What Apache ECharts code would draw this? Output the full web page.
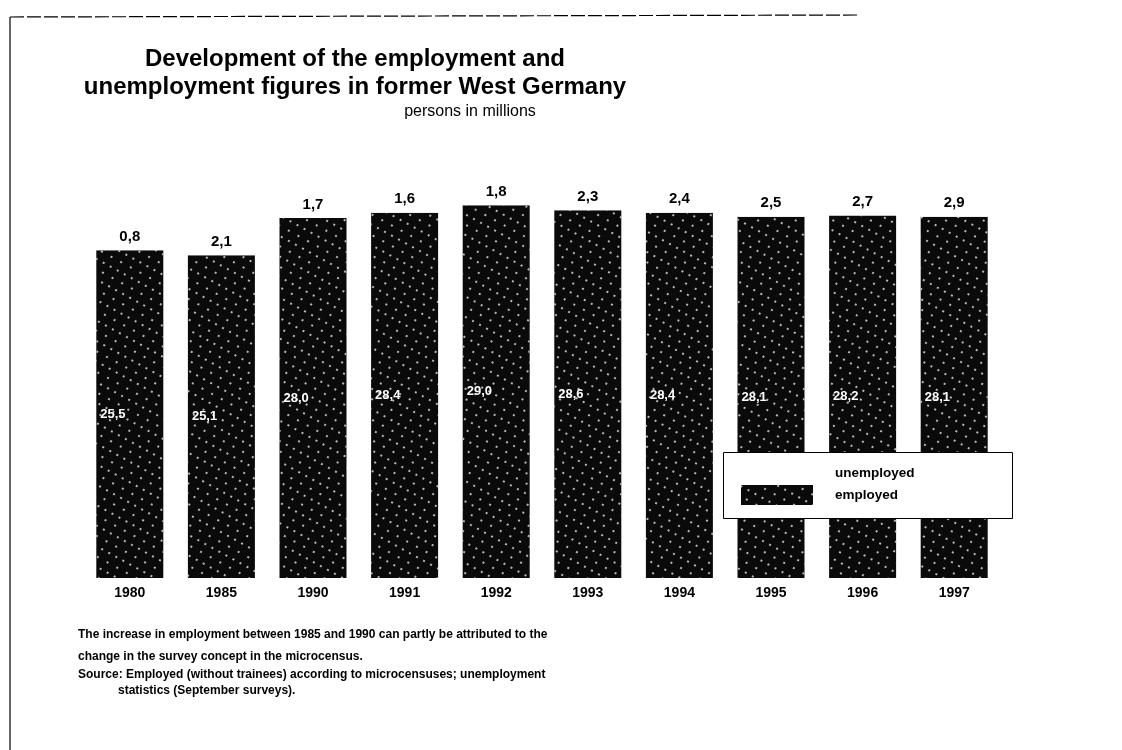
<!DOCTYPE html>
<html>
<head>
<meta charset="utf-8">
<script src="https://cdn.jsdelivr.net/npm/echarts@6/dist/echarts.min.js"></script>
<style>
  html, body { margin: 0; padding: 0; background: #fff; }
  #chart { width: 1122px; height: 750px; }
</style>
</head>
<body>
<div id="chart"></div>
<script>
const years = ['1980', '1985', '1990', '1991', '1992', '1993', '1994', '1995', '1996', '1997'];
const employed = [25.5, 25.1, 28.0, 28.4, 29.0, 28.6, 28.4, 28.1, 28.2, 28.1];
const unemployed = [0.8, 2.1, 1.7, 1.6, 1.8, 2.3, 2.4, 2.5, 2.7, 2.9];
const footnotes = [
  'The increase in employment between 1985 and 1990 can partly be attributed to the',
  'change in the survey concept in the microcensus.',
  'Source: Employed (without trainees) according to microcensuses; unemployment',
  '            statistics (September surveys).'
];

const fmt = v => String(v.toFixed(1)).replace('.', ',');
const FONT = '"Liberation Sans", Arial, sans-serif';

const chart = echarts.init(document.getElementById('chart'));
chart.setOption({
  backgroundColor: '#fff',
  animation: false,
  textStyle: { fontFamily: FONT },
  title: [
    {
      text: 'Development of the employment and\nunemployment figures in former West Germany',
      left: 350, top: 40, textAlign: 'center',
      textStyle: { fontFamily: FONT, fontSize: 24, fontWeight: 'bold', color: '#000', lineHeight: 28 }
    },
    {
      text: 'persons in millions',
      left: 465, top: 99, textAlign: 'center',
      textStyle: { fontFamily: FONT, fontSize: 16, fontWeight: 'normal', color: '#000' }
    }
  ],
  grid: { left: 84, right: 122, top: 128, bottom: 172 },
  xAxis: {
    type: 'category',
    data: years,
    axisLine: { show: false },
    axisTick: { show: false },
    axisLabel: { margin: 8, fontFamily: FONT, fontSize: 14, fontWeight: 'bold', color: '#000' }
  },
  yAxis: { type: 'value', min: 0, max: 35, show: false },
  legend: {
    orient: 'vertical',
    left: 741, top: 463,
    itemWidth: 72, itemHeight: 20, itemGap: 2, padding: 0,
    icon: 'rect',
    data: ['unemployed', 'employed'],
    textStyle: { fontFamily: FONT, fontSize: 13.5, fontWeight: 'bold', color: '#000', padding: [0, 0, 0, 17] },
    z: 10
  },
  graphic: [
    { type: 'rect', left: 723, top: 452, z: 8, shape: { width: 289, height: 66 },
      style: { fill: '#fff', stroke: '#000', lineWidth: 1 } },
    { type: 'line', z: 8, shape: { x1: 10, y1: 17, x2: 860, y2: 15 },
      style: { stroke: '#000', lineWidth: 1.2, lineDash: [14, 3] } },
    { type: 'line', z: 8, shape: { x1: 10, y1: 17, x2: 10, y2: 750 },
      style: { stroke: '#000', lineWidth: 1.2 } },
    ...footnotes.map((t, i) => ({
      type: 'text', left: 78, top: [629, 651, 669, 685][i], z: 8,
      style: { text: t, fontFamily: FONT, fontSize: 12, fontWeight: 'bold', fill: '#000' }
    }))
  ],
  series: [
    {
      name: 'employed', type: 'bar', stack: 'total', barWidth: 67,
      data: employed,
      itemStyle: {
        color: '#0a0a0a',
        decal: { symbol: 'rect', symbolSize: 1, color: 'rgba(255,255,255,0.7)',
                 dashArrayX: [[2, 9], [2, 6]], dashArrayY: [2, 7], rotation: 0.5 }
      },
      label: {
        show: true, position: 'insideLeft', distance: 4,
        formatter: p => fmt(p.value),
        fontFamily: FONT, fontSize: 13, fontWeight: 'bold', color: '#fff'
      }
    },
    {
      name: 'unemployed', type: 'bar', stack: 'total', barWidth: 67,
      data: unemployed,
      itemStyle: { color: '#ffffff' },
      label: {
        show: true, position: 'insideBottom', distance: 6,
        formatter: p => fmt(p.value),
        fontFamily: FONT, fontSize: 15, fontWeight: 'bold', color: '#000'
      }
    }
  ]
});
</script>
</body>
</html>
